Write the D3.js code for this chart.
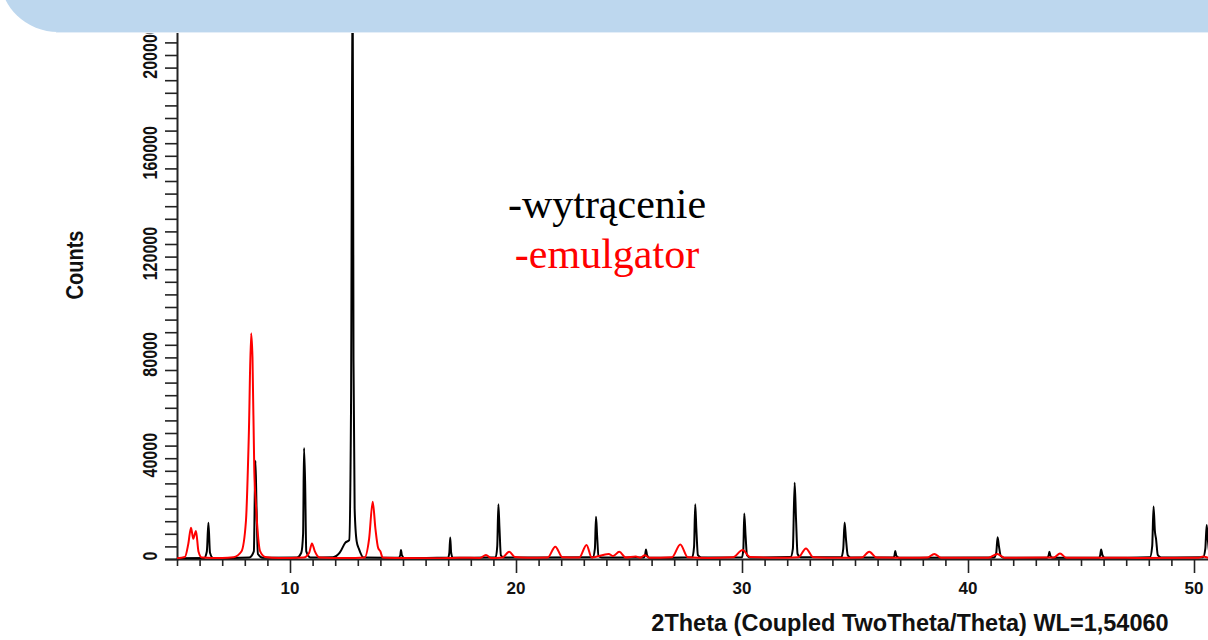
<!DOCTYPE html>
<html>
<head>
<meta charset="utf-8">
<script src="https://d3js.org/d3.v7.min.js"></script>
<style>
  body { margin: 0; background: #fff; }
  svg { display: block; }
  .legend { font-family: "Liberation Serif", "Times New Roman", serif; }
</style>
</head>
<body>
<div id="chart"></div>
<script>
// [2Theta, Counts]
const wytracenie = [
  [5.0, 300], [6.2, 400], [6.32, 3000], [6.39, 14400], [6.46, 2500], [6.6, 400],
  [8.2, 600], [8.4, 3000], [8.47, 39000], [8.52, 20000], [8.58, 2000], [8.8, 500],
  [10.3, 600], [10.5, 2500], [10.58, 10000], [10.62, 44000], [10.67, 30000], [10.72, 3000], [10.9, 600],
  [11.9, 700], [12.2, 2500], [12.45, 6500], [12.62, 7500], [12.7, 60000], [12.77, 240000],
  [12.81, 79000], [12.86, 20000], [12.95, 7000], [13.05, 4000], [13.25, 600],
  [14.8, 500], [14.88, 1500], [14.91, 3600], [14.95, 1500], [15.05, 400],
  [17.0, 600], [17.05, 2500], [17.09, 8500], [17.13, 2500], [17.2, 500],
  [19.1, 700], [19.17, 5000], [19.22, 21700], [19.27, 12000], [19.33, 1500], [19.45, 600],
  [23.4, 700], [23.49, 4000], [23.54, 16800], [23.59, 9000], [23.65, 1200], [23.8, 600],
  [25.65, 600], [25.72, 2000], [25.75, 3800], [25.8, 1500], [25.9, 500],
  [27.8, 700], [27.88, 5000], [27.93, 21700], [27.98, 12000], [28.05, 1500], [28.2, 600],
  [30.0, 700], [30.06, 4000], [30.1, 18100], [30.16, 9000], [30.22, 1500], [30.35, 600],
  [32.15, 800], [32.25, 4000], [32.33, 30300], [32.39, 16000], [32.46, 2000], [32.6, 700],
  [34.4, 800], [34.48, 4000], [34.54, 14500], [34.6, 8000], [34.68, 1500], [34.8, 600],
  [36.7, 600], [36.75, 1500], [36.78, 3200], [36.83, 1200], [36.95, 500],
  [41.15, 600], [41.25, 2500], [41.31, 8600], [41.37, 5000], [41.45, 1200], [41.6, 500],
  [43.5, 500], [43.57, 1500], [43.6, 2900], [43.65, 1200], [43.75, 500],
  [45.8, 500], [45.85, 1500], [45.89, 3800], [45.95, 1500], [46.05, 500],
  [48.05, 700], [48.15, 5000], [48.21, 20800], [48.27, 11000], [48.32, 8000], [48.4, 1500], [48.55, 600],
  [50.4, 700], [50.5, 4000], [50.56, 13500], [50.62, 7000], [50.7, 1500], [51.0, 500]
];

const emulgator = [
  [5.0, 300], [5.35, 800], [5.5, 6000], [5.62, 12400], [5.72, 8000], [5.76, 9000], [5.84, 11100],
  [5.95, 3000], [6.1, 600], [7.0, 400], [7.5, 700], [7.85, 3000], [8.05, 15000], [8.18, 50000],
  [8.28, 89600], [8.34, 80000], [8.42, 35000], [8.49, 22000], [8.56, 12000], [8.68, 3000], [8.9, 800],
  [9.5, 400], [10.6, 600], [10.85, 2500], [10.97, 6200], [11.1, 3000], [11.3, 600],
  [12.5, 400], [13.3, 600], [13.5, 8000], [13.66, 22700], [13.78, 12000], [13.9, 4400], [14.0, 3000], [14.1, 600],
  [15.0, 400], [16.5, 300], [17.5, 500], [18.4, 400], [18.67, 1600], [18.9, 400],
  [19.4, 600], [19.7, 2900], [19.95, 800], [20.5, 500], [21.4, 600], [21.74, 4900], [22.05, 700],
  [22.8, 600], [23.12, 5600], [23.35, 600], [24.1, 2000], [24.3, 1200], [24.57, 2900], [24.85, 600],
  [25.3, 1000], [25.5, 500], [25.7, 1500], [25.9, 500], [26.9, 700], [27.27, 5800], [27.6, 700],
  [28.5, 400], [29.6, 700], [30.03, 3600], [30.35, 800], [31.5, 500], [32.5, 700], [32.83, 4200],
  [33.15, 700], [34.3, 500], [35.3, 600], [35.63, 2900], [35.95, 600], [37.5, 500], [38.2, 600],
  [38.51, 2000], [38.8, 500], [40.9, 500], [41.3, 2000], [41.6, 500], [43.8, 600], [44.07, 2200],
  [44.35, 500], [46.5, 500], [47.5, 400], [50.2, 500], [50.4, 1000], [50.7, 400], [51.0, 400]
];

const yLabelValues = [0, 40000, 80000, 120000, 160000, 200000];
const xLabelValues = [10, 20, 30, 40, 50];
const legendLabels = ["-wytrącenie", "-emulgator"];
const seriesColours = ["#000000", "#ff0000"];

var width = 1208;
var height = 640;
var sans = "'Liberation Sans', Arial, sans-serif";

var svg = d3.select("#chart").append("svg")
  .attr("width", width)
  .attr("height", height);

var x = d3.scaleLinear().domain([5, 51]).range([177, 177 + 46 * 22.6]);
var y = d3.scaleLinear().domain([0, 220000]).range([559, 559 - 220 * 2.52]);

svg.append("clipPath").attr("id", "plot-clip")
  .append("rect")
  .attr("x", 177).attr("y", 0)
  .attr("width", width - 177).attr("height", 559);

// y axis, minor ticks every 5000
var yTicks = d3.range(0, 220001, 5000);
var yAxis = svg.append("g")
  .attr("transform", "translate(177,0)")
  .call(d3.axisLeft(y).tickValues(yTicks).tickSize(12).tickFormat(""));
yAxis.select(".domain").attr("stroke", "#222").attr("stroke-width", 2);
yAxis.selectAll(".tick line").attr("stroke", "#222").attr("stroke-width", 1.6);

// rotated labels look a bit wider across in the picture
svg.append("g").selectAll("text")
  .data(yLabelValues)
  .enter().append("text")
  .attr("transform", function (d) { return "translate(157," + (y(d) - 3) + ") rotate(-90) scale(1,1.3)"; })
  .attr("text-anchor", "middle")
  .style("font-family", sans)
  .style("font-weight", "bold")
  .style("font-size", "16px")
  .style("fill", "#111")
  .text(function (d) { return d; });

// x axis, minor ticks every degree
var xTicks = d3.range(5, 52, 1);
var xAxis = svg.append("g")
  .attr("transform", "translate(0,559)")
  .call(d3.axisBottom(x).tickValues(xTicks).tickSizeOuter(0).tickFormat(""));
xAxis.select(".domain").attr("stroke", "#222").attr("stroke-width", 2);
xAxis.selectAll(".tick line")
  .attr("stroke", "#222")
  .attr("stroke-width", 1.6)
  .attr("y2", function (d) { return d % 10 === 0 ? 14 : 7; });

svg.append("g").selectAll("text")
  .data(xLabelValues)
  .enter().append("text")
  .attr("x", function (d) { return x(d); })
  .attr("y", 594)
  .attr("text-anchor", "middle")
  .style("font-family", sans)
  .style("font-weight", "bold")
  .style("font-size", "17px")
  .style("fill", "#111")
  .text(function (d) { return d; });

svg.append("text")
  .attr("transform", "translate(83,265) rotate(-90) scale(1,1.2)")
  .attr("text-anchor", "middle")
  .style("font-family", sans)
  .style("font-weight", "bold")
  .style("font-size", "20px")
  .style("fill", "#111")
  .text("Counts");

svg.append("text")
  .attr("x", 910)
  .attr("y", 631)
  .attr("text-anchor", "middle")
  .style("font-family", sans)
  .style("font-weight", "bold")
  .style("font-size", "23.5px")
  .style("fill", "#111")
  .text("2Theta (Coupled TwoTheta/Theta) WL=1,54060");

var line = d3.line()
  .x(function (d) { return x(d[0]); })
  .y(function (d) { return y(d[1]); })
  .curve(d3.curveMonotoneX);

var lines = svg.append("g").attr("clip-path", "url(#plot-clip)").attr("fill", "none");

lines.selectAll("path")
  .data([wytracenie, emulgator])
  .enter().append("path")
  .attr("d", line)
  .attr("stroke", function (d, i) { return seriesColours[i]; })
  .attr("stroke-width", 2)
  .attr("stroke-linejoin", "round");

svg.append("g").selectAll("text")
  .data(legendLabels)
  .enter().append("text")
  .attr("class", "legend")
  .attr("x", 607)
  .attr("y", function (d, i) { return 218 + i * 50; })
  .attr("text-anchor", "middle")
  .style("font-size", "42px")
  .style("fill", function (d, i) { return seriesColours[i]; })
  .text(function (d) { return d; });

// header banner on top
svg.append("rect")
  .attr("x", 0).attr("y", -80)
  .attr("width", 1400).attr("height", 112)
  .attr("rx", 58).attr("ry", 58)
  .attr("fill", "#bdd7ee");
svg.append("line")
  .attr("x1", 56).attr("x2", width)
  .attr("y1", 32.5).attr("y2", 32.5)
  .attr("stroke", "#e4eef8").attr("stroke-width", 1);
</script>
</body>
</html>
